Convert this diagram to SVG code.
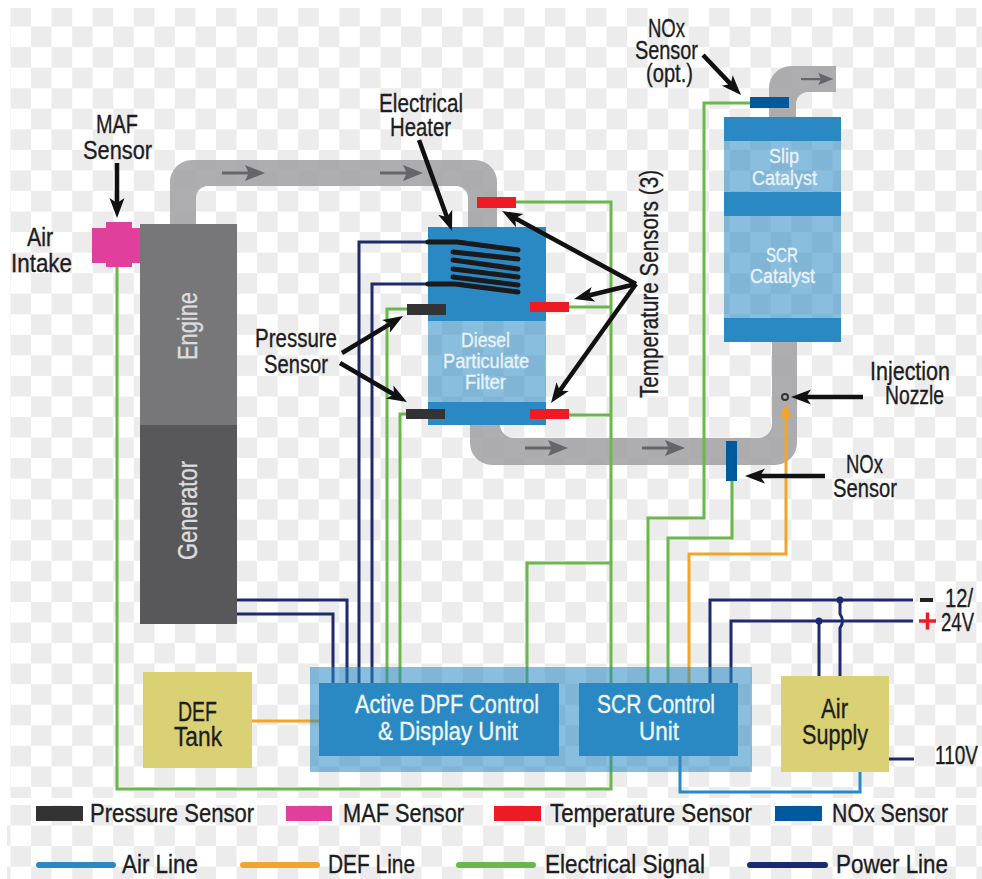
<svg xmlns="http://www.w3.org/2000/svg" width="982" height="879" viewBox="0 0 982 879">
<style>
text{font-family:"Liberation Sans Narrow","Liberation Sans",Arial,sans-serif;font-size:26px;fill:#1d1d1f;stroke:#1d1d1f;stroke-width:.35px;text-anchor:start}
.w{fill:#e9f3fa;stroke:#e9f3fa;font-size:21px}
.e{fill:#dcdcde;stroke:#dcdcde;font-size:27px}
.u{fill:#eef6fb;stroke:#eef6fb;font-size:26px}
.d{font-size:27px}
.pipe{fill:#a3a3a5;fill-opacity:.88}
.blue{fill:#2a89c2}
.lite{fill:#2a89c2;fill-opacity:.55}
.yel{fill:#dad074}
.red{fill:#ed1c24}
.blk{fill:#333335}
.nox{fill:#00599c}
.g,.n,.o,.a,.k{fill:none}
.g{stroke:#6cb74a;stroke-width:3}
.n{stroke:#1c2a6f;stroke-width:3}
.o{stroke:#f2a52c;stroke-width:3}
.a{stroke:#2a89c2;stroke-width:3}
.k{stroke:#111;stroke-width:4.5;marker-end:url(#head)}
.coil{fill:none;stroke:#1a1a1c;stroke-width:5;stroke-linecap:round;stroke-linejoin:round}
.leg{fill:none;stroke-width:6;stroke-linecap:round}
</style>
<defs>
<pattern id="chk" x="10.5" y="6" width="41.1" height="41.1" patternUnits="userSpaceOnUse">
<rect width="41.1" height="41.1" fill="#fff"/>
<rect width="20.55" height="20.55" fill="#ececec"/>
<rect x="20.55" y="20.55" width="20.55" height="20.55" fill="#ececec"/>
</pattern>
<pattern id="chk2" x="10.5" y="805" width="41.1" height="41.1" patternUnits="userSpaceOnUse">
<rect width="41.1" height="41.1" fill="#fff"/>
<rect width="20.55" height="20.55" fill="#ececec"/>
<rect x="20.55" y="20.55" width="20.55" height="20.55" fill="#ececec"/>
</pattern>
<marker id="head" markerUnits="userSpaceOnUse" markerWidth="24" markerHeight="20" refX="5" refY="10" orient="auto">
<path d="M20,10 L0,2.5 L5,10 L0,17.5Z" fill="#111"/>
</marker>
<path id="flow" d="M0,-1.5H26L23,-8L43,0L23,8L26,1.5H0Z" fill="#66666a"/>
</defs>

<g id="background">
<rect width="982" height="879" fill="#fff"/>
<rect x="10" y="8" width="972" height="790" fill="url(#chk)"/>
<rect x="7" y="805" width="975" height="74" fill="url(#chk2)"/>
</g>

<g id="pipes">
<path class="pipe" d="M170 225V182A22 22 0 0 1 192 160H475A22 22 0 0 1 497 182V228H468V198A12 12 0 0 0 456 186H208A12 12 0 0 0 196 198V225Z"/>
<path class="pipe" d="M470 425V443A22 22 0 0 0 492 465H775A22 22 0 0 0 797 443V342H772V424A14 14 0 0 1 758 438H514A14 14 0 0 1 500 424V425Z"/>
<path class="pipe" d="M769 117V88A22 22 0 0 1 791 66H836V92H808A12 12 0 0 0 796 104V117Z"/>
<use href="#flow" x="222" y="173"/>
<use href="#flow" x="380" y="173"/>
<use href="#flow" x="525" y="448"/>
<use href="#flow" x="642" y="448"/>
<use href="#flow" transform="translate(801 79) scale(.75)"/>
</g>

<g id="connectors">
<path class="g" d="M117 267V789H611V202H516"/>
<path class="g" d="M569 307H611M569 415H611"/>
<path class="g" d="M527 683V563H611"/>
<path class="g" d="M407 309H387V683"/>
<path class="g" d="M406 414H400V683"/>
<path class="g" d="M648 683V518H704V103H750"/>
<path class="g" d="M668 683V538H732V481"/>
<path class="n" d="M237 600H347V683"/>
<path class="n" d="M237 614H333V683"/>
<path class="n" d="M428 242H359V683"/>
<path class="n" d="M428 284H372V683"/>
<path class="n" d="M710 683V600H913"/>
<path class="n" d="M731 683V621H913"/>
<path class="n" d="M819 676V621"/>
<path class="n" d="M840 676V628Q845 621 840 614V600"/>
<path class="n" d="M889 759H914"/>
<path class="o" d="M252 721H319"/>
<path class="o" d="M689 683V554H786V416"/>
<path class="a" d="M680 756V792H860V772"/>
</g>

<g id="control-panel"><rect class="lite" x="310" y="667" width="442" height="105"/></g>

<g id="junctions">
<circle cx="840" cy="600" r="3.5" fill="#1c2a6f"/>
<circle cx="819" cy="621" r="3.5" fill="#1c2a6f"/>
<path d="M920 600H933" stroke="#222" stroke-width="4"/>
<path d="M919 621H936M927.500 612.500V629.500" stroke="#ed1c24" stroke-width="3.500"/>
<path d="M786 404L792 418H780Z" fill="#f2a52c"/>
<circle cx="785" cy="397" r="3" fill="none" stroke="#333" stroke-width="2"/>
</g>

<g id="engine">
<rect x="140" y="224" width="97" height="201" fill="#77777a"/>
<text class="e" transform="translate(197 360) rotate(-90)" textLength="68" lengthAdjust="spacingAndGlyphs">Engine</text>
</g>
<g id="generator">
<rect x="140" y="425" width="97" height="199" fill="#58585b"/>
<text class="e" transform="translate(197 560) rotate(-90)" textLength="99" lengthAdjust="spacingAndGlyphs">Generator</text>
</g>
<g id="maf-sensor">
<path d="M92 228H106V222H132V228H140V263H132V267H106V263H92Z" fill="#e0409c"/>
</g>
<g id="dpf">
<rect x="428" y="227" width="118" height="94" class="blue"/>
<rect x="428" y="321" width="118" height="81" class="lite"/>
<rect x="428" y="402" width="118" height="23" class="blue"/>
<text class="w" x="461" y="347" textLength="49" lengthAdjust="spacingAndGlyphs">Diesel</text>
<text class="w" x="443" y="368" textLength="86" lengthAdjust="spacingAndGlyphs">Particulate</text>
<text class="w" x="465" y="389" textLength="41" lengthAdjust="spacingAndGlyphs">Filter</text>
</g>
<g id="electrical-heater">
<path class="coil" d="M428 242H457L518 250M453 252L518 259M453 260L518 269M453 269L518 277M453 277L518 285M428 284H455L518 292"/>
</g>
<g id="temperature-sensors">
<rect class="red" x="477" y="197" width="39" height="11"/>
<rect class="red" x="530" y="302" width="39" height="10"/>
<rect class="red" x="530" y="409" width="39" height="10"/>
</g>
<g id="pressure-sensors">
<rect class="blk" x="407" y="304" width="39" height="11"/>
<rect class="blk" x="406" y="409" width="39" height="10"/>
</g>
<g id="catalyst">
<rect x="724" y="117" width="117" height="24" class="blue"/>
<rect x="724" y="141" width="117" height="51" class="lite"/>
<rect x="724" y="192" width="117" height="24" class="blue"/>
<rect x="724" y="216" width="117" height="102" class="lite"/>
<rect x="724" y="318" width="117" height="24" class="blue"/>
<text class="w" x="769" y="163" textLength="30" lengthAdjust="spacingAndGlyphs">Slip</text>
<text class="w" x="752" y="185" textLength="65" lengthAdjust="spacingAndGlyphs">Catalyst</text>
<text class="w" x="766" y="262" textLength="32" lengthAdjust="spacingAndGlyphs">SCR</text>
<text class="w" x="750" y="283" textLength="65" lengthAdjust="spacingAndGlyphs">Catalyst</text>
</g>
<g id="nox-sensors">
<rect class="nox" x="750" y="97" width="39" height="11"/>
<rect class="nox" x="726" y="441" width="11" height="40"/>
</g>
<g id="dpf-control">
<rect class="blue" x="319" y="683" width="240" height="73"/>
<text class="u" x="355" y="713" textLength="184" lengthAdjust="spacingAndGlyphs">Active DPF Control</text>
<text class="u" x="378" y="740" textLength="140" lengthAdjust="spacingAndGlyphs">&amp; Display Unit</text>
</g>
<g id="scr-control">
<rect class="blue" x="579" y="683" width="159" height="73"/>
<text class="u" x="597" y="713" textLength="118" lengthAdjust="spacingAndGlyphs">SCR Control</text>
<text class="u" x="639" y="740" textLength="40" lengthAdjust="spacingAndGlyphs">Unit</text>
</g>
<g id="def-tank">
<rect class="yel" x="143" y="672" width="109" height="96"/>
<text class="d" x="178" y="721" textLength="39" lengthAdjust="spacingAndGlyphs">DEF</text>
<text class="d" x="174" y="746" textLength="48" lengthAdjust="spacingAndGlyphs">Tank</text>
</g>
<g id="air-supply">
<rect class="yel" x="781" y="676" width="108" height="96"/>
<text class="d" x="821" y="718" textLength="27" lengthAdjust="spacingAndGlyphs">Air</text>
<text class="d" x="802" y="744" textLength="66" lengthAdjust="spacingAndGlyphs">Supply</text>
</g>

<g id="callouts">
<path class="k" d="M117 163V203"/>
<path class="k" d="M419 140L446.900 216.900"/>
<path class="k" d="M636 284L515.200 218.200"/>
<path class="k" d="M636 284L588.600 295.500"/>
<path class="k" d="M636 284L559.700 390.800"/>
<path class="k" d="M342 353L390.200 323.800"/>
<path class="k" d="M340 363L394 394.500"/>
<path class="k" d="M703 55L730.700 84.100"/>
<path class="k" d="M863 397H806"/>
<path class="k" d="M825 476H760"/>
</g>

<g id="labels">
<text x="96" y="133" textLength="42" lengthAdjust="spacingAndGlyphs">MAF</text>
<text x="83" y="159" textLength="69" lengthAdjust="spacingAndGlyphs">Sensor</text>
<text x="27" y="246" textLength="26" lengthAdjust="spacingAndGlyphs">Air</text>
<text x="11" y="272" textLength="61" lengthAdjust="spacingAndGlyphs">Intake</text>
<text x="379" y="112" textLength="84" lengthAdjust="spacingAndGlyphs">Electrical</text>
<text x="390" y="136" textLength="61" lengthAdjust="spacingAndGlyphs">Heater</text>
<text x="255" y="347" textLength="82" lengthAdjust="spacingAndGlyphs">Pressure</text>
<text x="264" y="373" textLength="64" lengthAdjust="spacingAndGlyphs">Sensor</text>
<text transform="translate(658 398) rotate(-90)" textLength="228" lengthAdjust="spacingAndGlyphs">Temperature Sensors (3)</text>
<text x="648" y="37" textLength="37" lengthAdjust="spacingAndGlyphs">NOx</text>
<text x="635" y="59" textLength="63" lengthAdjust="spacingAndGlyphs">Sensor</text>
<text x="646" y="82" textLength="47" lengthAdjust="spacingAndGlyphs">(opt.)</text>
<text x="870" y="380" textLength="80" lengthAdjust="spacingAndGlyphs">Injection</text>
<text x="885" y="404" textLength="59" lengthAdjust="spacingAndGlyphs">Nozzle</text>
<text x="846" y="473" textLength="37" lengthAdjust="spacingAndGlyphs">NOx</text>
<text x="833" y="497" textLength="64" lengthAdjust="spacingAndGlyphs">Sensor</text>
<text x="945" y="607" textLength="28" lengthAdjust="spacingAndGlyphs">12/</text>
<text x="941" y="631" textLength="33" lengthAdjust="spacingAndGlyphs">24V</text>
<text x="935" y="764" textLength="43" lengthAdjust="spacingAndGlyphs">110V</text>
</g>

<g id="legend">
<rect class="blk" x="36" y="806" width="47" height="15"/>
<text x="90" y="822" textLength="164" lengthAdjust="spacingAndGlyphs">Pressure Sensor</text>
<rect x="286" y="806" width="46" height="15" fill="#e0409c"/>
<text x="343" y="822" textLength="121" lengthAdjust="spacingAndGlyphs">MAF Sensor</text>
<rect class="red" x="494" y="806" width="47" height="15"/>
<text x="550" y="822" textLength="202" lengthAdjust="spacingAndGlyphs">Temperature Sensor</text>
<rect class="nox" x="775" y="806" width="47" height="15"/>
<text x="832" y="822" textLength="116" lengthAdjust="spacingAndGlyphs">NOx Sensor</text>
<path class="leg" stroke="#2a89c2" d="M39 865H113"/>
<text x="122" y="873" textLength="76" lengthAdjust="spacingAndGlyphs">Air Line</text>
<path class="leg" stroke="#f2a52c" d="M243 865H317"/>
<text x="328" y="873" textLength="87" lengthAdjust="spacingAndGlyphs">DEF Line</text>
<path class="leg" stroke="#6cb74a" d="M459 865H533"/>
<text x="545" y="873" textLength="160" lengthAdjust="spacingAndGlyphs">Electrical Signal</text>
<path class="leg" stroke="#1c2a6f" d="M750 865H825"/>
<text x="836" y="873" textLength="112" lengthAdjust="spacingAndGlyphs">Power Line</text>
</g>
</svg>
